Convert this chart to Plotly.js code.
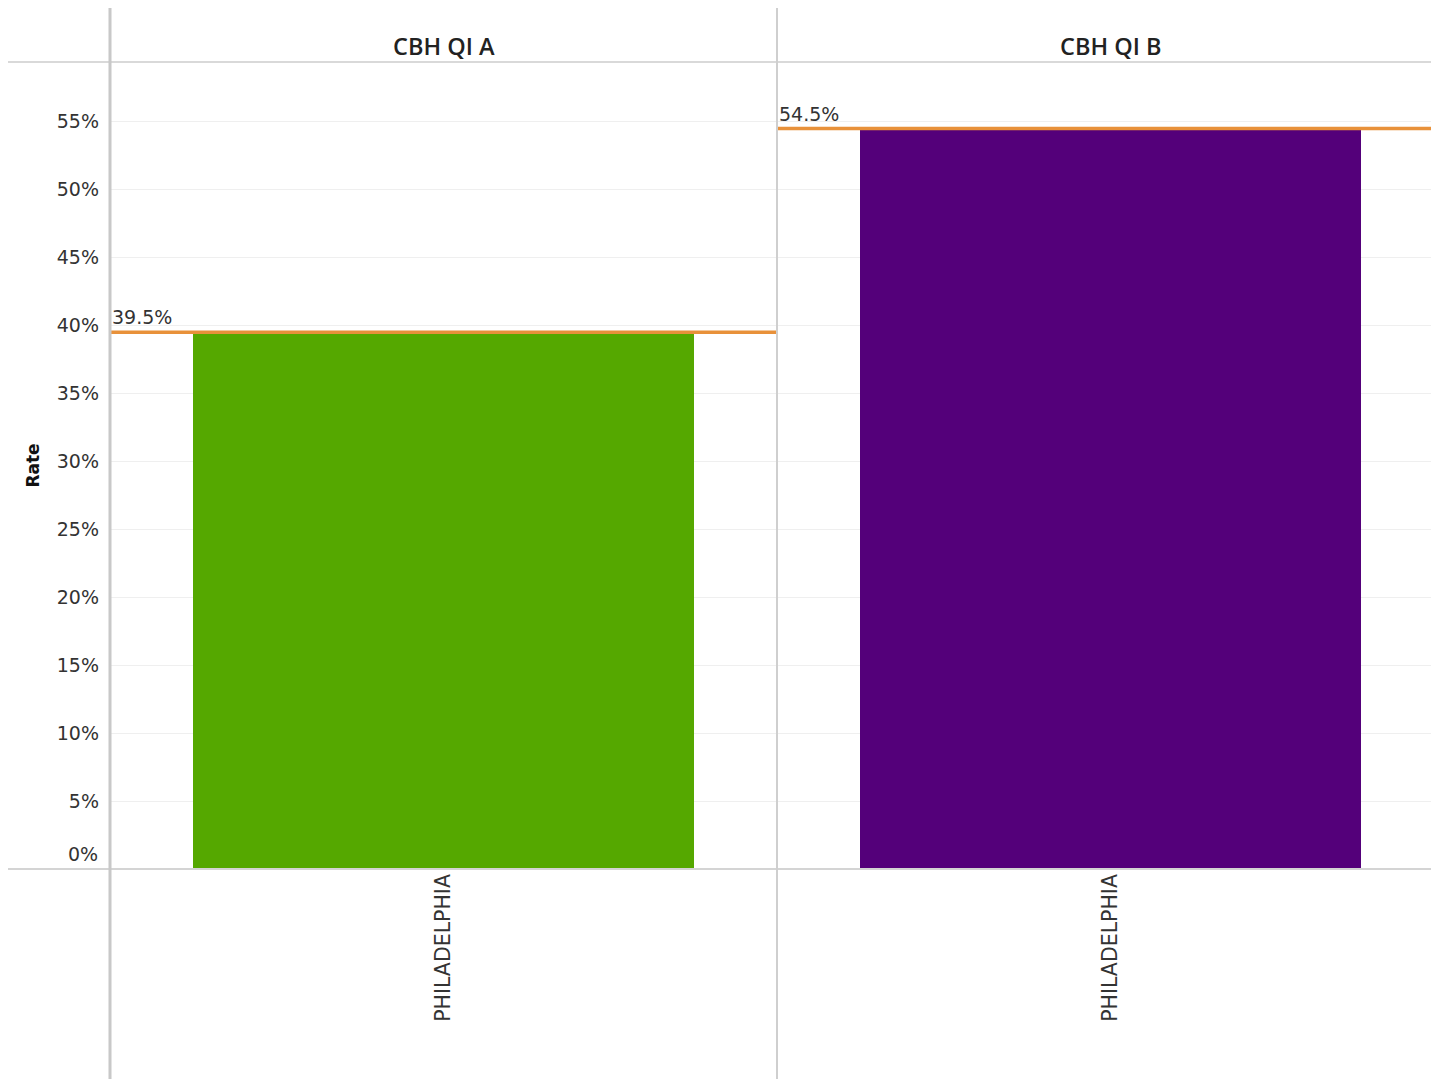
<!DOCTYPE html>
<html>
<head>
<meta charset="utf-8">
<script src="https://cdn.plot.ly/plotly-3.0.1.min.js"></script>
<style>
  html, body { margin: 0; padding: 0; background: #ffffff; }
  #chart { width: 1431px; height: 1079px; }
</style>
</head>
<body>
<div id="chart"></div>
<script>
// ---- Data ----
const panels = ["CBH QI A", "CBH QI B"];
const categories = ["PHILADELPHIA"];
const rateA = [0.395];
const rateB = [0.545];
const refValues = [0.395, 0.545];
const refLabels = ["39.5%", "54.5%"];
const barColors = ["#55a800", "#54007a"];
const yTickVals = [0, 0.05, 0.10, 0.15, 0.20, 0.25, 0.30, 0.35, 0.40, 0.45, 0.50, 0.55];
const yTickText = ["", "5%", "10%", "15%", "20%", "25%", "30%", "35%", "40%", "45%", "50%", "55%"];
const zeroLabel = "0%";

// ---- Layout geometry (pixels -> paper) ----
const W = 1431, H = 1079;
const px = v => v / W;
const py = v => 1 - v / H;
const plotTop = 62, plotBottom = 869;
const xA0 = 110, xB0 = 777;
const panelW = 667;

const font = "'DejaVu Sans', 'Noto Sans', sans-serif";
const headFont = "'Open Sans', 'Noto Sans', sans-serif";

const traces = [
  {
    type: "bar", x: categories, y: rateA, xaxis: "x", yaxis: "y",
    marker: { color: barColors[0] }, width: 0.75, hoverinfo: "skip", showlegend: false
  },
  {
    type: "bar", x: categories, y: rateB, xaxis: "x2", yaxis: "y2",
    marker: { color: barColors[1] }, width: 0.75, hoverinfo: "skip", showlegend: false
  }
];

const yMax = 0.594;
const yCommon = {
  range: [0, yMax],
  tickvals: yTickVals,
  ticktext: yTickText,
  showgrid: true,
  gridcolor: "#efefef",
  gridwidth: 1,
  zeroline: false,
  showline: false,
  ticks: "",
  domain: [py(plotBottom), py(plotTop)],
  fixedrange: true
};

const xCommon = {
  type: "category",
  showgrid: false,
  zeroline: false,
  showline: false,
  ticks: "",
  tickangle: -90,
  tickfont: { family: font, size: 20.5, color: "#333333" },
  fixedrange: true
};

const layout = {
  width: W, height: H,
  margin: { l: 0, r: 0, t: 0, b: 0 },
  paper_bgcolor: "#ffffff",
  plot_bgcolor: "#ffffff",
  showlegend: false,
  bargap: 0,
  xaxis: Object.assign({}, xCommon, {
    domain: [px(xA0), px(xB0)],
    range: [-0.5, 0.5],
    anchor: "y"
  }),
  xaxis2: Object.assign({}, xCommon, {
    domain: [px(xB0), 1],
    range: [-0.5, -0.5 + (W - xB0) / panelW],
    anchor: "y2"
  }),
  yaxis: Object.assign({}, yCommon, {
    anchor: "x",
    showticklabels: true,
    tickfont: { family: font, size: 19, color: "#333333" },
    ticklabelstandoff: 10,
    title: { text: "<b>Rate</b>", font: { family: font, size: 17, color: "#111111" }, standoff: 12 }
  }),
  yaxis2: Object.assign({}, yCommon, {
    anchor: "x2",
    showticklabels: false
  }),
  shapes: [],
  annotations: []
};

// Zero tick label (Tableau nudges it up inside the pane)
layout.annotations.push({
  xref: "paper", yref: "y", x: px(100), y: yTickVals[0],
  xanchor: "right", yanchor: "bottom", yshift: 2,
  text: zeroLabel, showarrow: false,
  font: { family: font, size: 19, color: "#333333" }
});

// Reference lines & labels (from data)
const xrefs = ["x", "x2"];
refValues.forEach((v, i) => {
  layout.shapes.push({
    type: "line", xref: xrefs[i] + " domain", yref: (i === 0 ? "y" : "y2"),
    x0: 0, x1: 1, y0: v, y1: v,
    line: { color: "#e8913a", width: 3.5 }, layer: "above"
  });
  layout.annotations.push({
    xref: xrefs[i] + " domain", yref: (i === 0 ? "y" : "y2"),
    x: 0, y: v, xanchor: "left", yanchor: "bottom", xshift: 0, yshift: 2,
    text: refLabels[i], showarrow: false,
    font: { family: font, size: 19, color: "#333333" }
  });
});

// Panel headers
panels.forEach((p, i) => {
  layout.annotations.push({
    xref: xrefs[i], yref: "paper",
    x: 0, y: py(46), xanchor: "center", yanchor: "middle",
    text: p, showarrow: false,
    font: { family: headFont, size: 23.5, color: "#222222", weight: 600 }
  });
});

// Structural lines (Tableau-style frame)
layout.shapes.push(
  { type: "line", xref: "paper", yref: "paper", x0: px(8), x1: 1, y0: py(plotTop), y1: py(plotTop),
    line: { color: "#d9d9d9", width: 2 }, layer: "above" },
  { type: "line", xref: "paper", yref: "paper", x0: px(8), x1: 1, y0: py(plotBottom), y1: py(plotBottom),
    line: { color: "#d4d4d4", width: 2 }, layer: "above" },
  { type: "line", xref: "paper", yref: "paper", x0: px(xA0), x1: px(xA0), y0: py(8), y1: 0,
    line: { color: "#c8c8c8", width: 3 }, layer: "above" },
  { type: "line", xref: "paper", yref: "paper", x0: px(xB0), x1: px(xB0), y0: py(8), y1: 0,
    line: { color: "#cfcfcf", width: 2 }, layer: "above" }
);

Plotly.newPlot("chart", traces, layout, { displayModeBar: false, staticPlot: true });
</script>
</body>
</html>
